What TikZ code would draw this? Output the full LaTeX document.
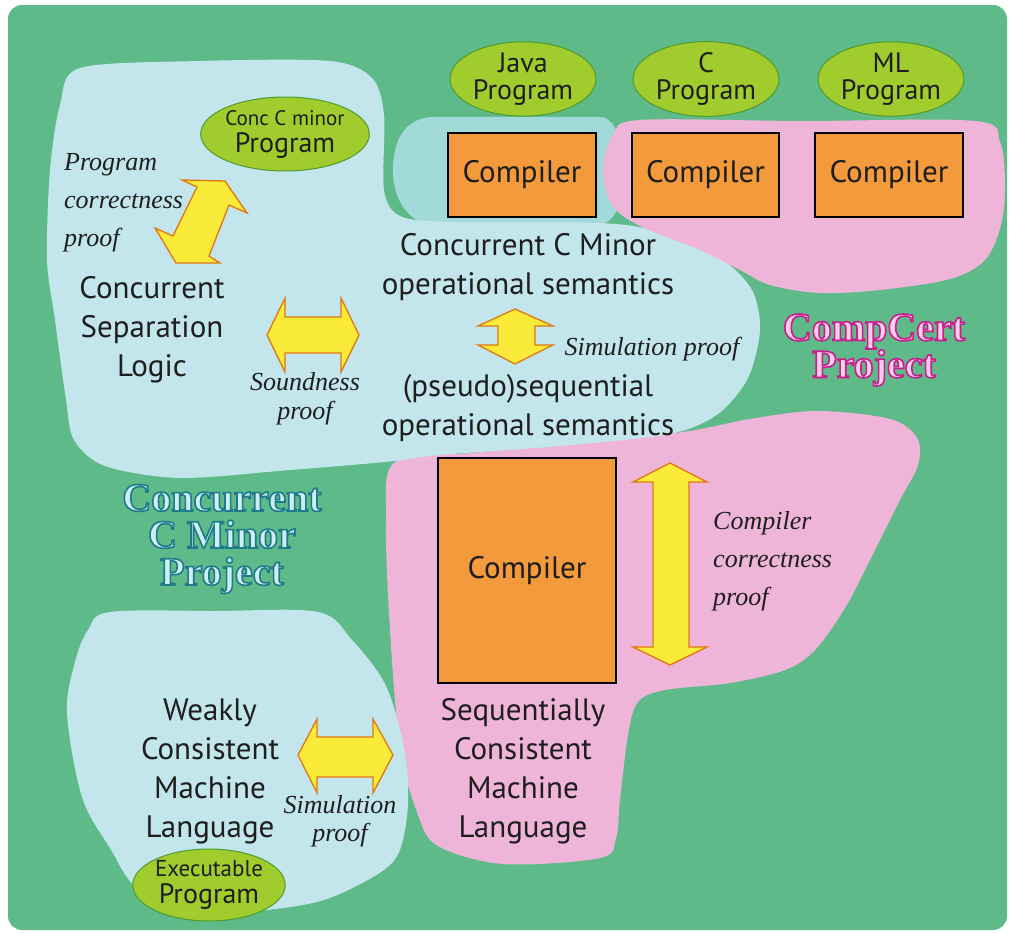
\documentclass[tikz,border=0pt]{standalone}
\usepackage{fontspec}
\setmainfont{PT Sans}
\newfontfamily\itfont{Liberation Serif}
\newfontfamily\titlefont{Liberation Serif}
\usetikzlibrary{shapes.geometric}
\definecolor{bggreen}{HTML}{5EBA88}
\definecolor{lblue}{HTML}{C2E6EC}
\definecolor{tealb}{HTML}{A2D9D9}
\definecolor{pinkb}{HTML}{EFB5D9}
\definecolor{orangebox}{HTML}{F39B3C}
\definecolor{arrowyellow}{HTML}{FAEB3A}
\definecolor{arroworange}{HTML}{E0780F}
\definecolor{ellfill}{HTML}{A0CC2E}
\definecolor{ellborder}{HTML}{4E9A2E}
\definecolor{txt}{HTML}{1E1E1E}
\definecolor{ccmfill}{HTML}{CDEFF4}
\definecolor{ccfill}{HTML}{FACDEA}
\tikzset{
 lbl/.style={text=txt, align=center, font=\fontsize{31}{39}\selectfont, inner sep=0pt},
 prf/.style={text=txt, font=\itfont\itshape\fontsize{26}{38}\selectfont, inner sep=0pt},
 compbox/.style={draw=black, line width=1.5pt, fill=orangebox, minimum width=148pt, minimum height=84pt, font=\fontsize{31}{39}\selectfont, text=txt, inner sep=0pt},
 prog/.style={ellipse, draw=ellborder, line width=1pt, fill=ellfill, minimum width=146pt, minimum height=72pt, inner sep=0pt, align=center, text=txt, font=\fontsize{28}{27}\selectfont},
 yarrow/.style={fill=arrowyellow, draw=arroworange, line width=1.3pt, line join=miter},
 ttl/.style={align=center, font=\titlefont\bfseries\fontsize{40}{37}\selectfont, inner sep=0pt},
}
% outlined text: #1 = stroke colour as "r g b", #2 = text
\newcommand\outlinedline[2]{\special{pdf:code q #1 RG 1.6 w 2 Tr}#2\special{pdf:code Q}}
\begin{document}
\begin{tikzpicture}[x=1pt,y=-1pt]
\useasboundingbox (0,0) rectangle (1014,933);
\fill[white] (0,0) rectangle (1014,933);
\fill[bggreen, rounded corners=14pt] (8,5) rectangle (1007,930);

% bottom pink region
\fill[pinkb] plot[smooth cycle, tension=0.55] coordinates {(395,462) (470,453) (580,443) (683,432) (750,419) (817,411) (890,419) (917,438) (918,465) (900,500) (870,560) (845,608) (815,650) (785,670) (730,683) (665,690) (638,702) (628,735) (620,800) (616,838) (600,858) (503,864) (438,846) (418,815) (400,747) (390,630) (386,520)};

% teal region around Java compiler
\fill[tealb] (430,117) -- (600,117) .. controls (618,117) and (625,150) .. (622,185) .. controls (620,215) and (610,226) .. (590,226) -- (430,226) .. controls (402,218) and (392,192) .. (393,167) .. controls (394,140) and (404,120) .. (430,117) -- cycle;

% main light blue region
\fill[lblue] plot[smooth cycle, tension=0.5] coordinates {(80,68) (200,61) (330,61) (372,78) (384,115) (384,190) (400,216) (450,222) (600,223) (660,232) (720,258) (752,290) (760,330) (748,378) (718,414) (670,434) (560,446) (440,455) (385,462) (290,470) (180,478) (105,466) (74,440) (66,400) (55,320) (47,260) (50,170) (60,105)};

% top pink region
\fill[pinkb] plot[smooth cycle, tension=0.55] coordinates {(640,120) (800,121) (975,121) (1000,142) (1005,185) (1001,225) (985,260) (950,279) (880,290) (820,293) (770,285) (740,270) (700,250) (640,226) (612,205) (603,170) (613,135)};

% bottom-left light blue region
\fill[lblue] plot[smooth cycle, tension=0.55] coordinates {(110,612) (215,611) (318,612) (352,640) (384,682) (400,730) (408,780) (405,830) (390,865) (335,896) (283,908) (210,912) (140,890) (110,848) (82,797) (67,713) (75,662) (88,630)};

% programs
\node[prog] (java) at (523,79) {Java\\Program};
\node[prog] (cprog) at (706,79) {C\\Program};
\node[prog] (ml) at (891,79) {ML\\Program};
\node[prog, minimum height=74pt] (conc) at (285,134) {{\fontsize{21}{27}\selectfont Conc C minor}\\Program};
\node[prog, minimum width=148pt] (exec) at (209,885) {{\fontsize{23}{27}\selectfont Executable}\\Program};

% compilers
\node[compbox] (cj) at (522,175) {Compiler};
\node[compbox, minimum width=147pt] (cc) at (705.5,175) {Compiler};
\node[compbox] (cml) at (889,175) {Compiler};
\node[compbox, minimum width=178pt, minimum height=225pt] (cbig) at (527,570.5) {Compiler};

% double arrows
\fill[yarrow] (182,180) -- (225,181) -- (247,213) -- (229,205) -- (209,256) -- (220,263) -- (176,263) -- (155,228) -- (173,236) -- (197,187) -- cycle;
\fill[yarrow] (267,335) -- (285,298) -- (285,317) -- (341,317) -- (341,298) -- (359,335) -- (341,372) -- (341,353) -- (285,353) -- (285,372) -- cycle;
\fill[yarrow] (515,309) -- (553,326) -- (535,326) -- (535,345) -- (553,345) -- (515,364) -- (478,345) -- (498,345) -- (498,326) -- (478,326) -- cycle;
\fill[yarrow] (670,463) -- (707,482) -- (689,482) -- (689,647) -- (707,647) -- (670,665) -- (633,647) -- (653,647) -- (653,482) -- (633,482) -- cycle;
\fill[yarrow] (298,755) -- (317,719) -- (317,737) -- (373,737) -- (373,719) -- (393,755) -- (373,793) -- (373,777) -- (317,777) -- (317,793) -- cycle;

% labels
\node[lbl] (csl) at (152,330) {Concurrent\\Separation\\Logic};
\node[lbl] (ccmos) at (528,267) {Concurrent C Minor\\operational semantics};
\node[lbl] (pseq) at (528,408) {(pseudo)sequential\\operational semantics};
\node[lbl] (wcml) at (210,771) {Weakly\\Consistent\\Machine\\Language};
\node[lbl] (scml) at (523,771) {Sequentially\\Consistent\\Machine\\Language};

% proof labels
\node[prf, align=left, anchor=west] (pcp) at (64,203) {Program\\correctness\\proof};
\node[prf, align=center, font=\itfont\itshape\fontsize{26}{29}\selectfont] (sndp) at (305,399) {Soundness\\proof};
\node[prf] (simp) at (652,349) {Simulation proof};
\node[prf, align=center, font=\itfont\itshape\fontsize{26}{28}\selectfont] (simp2) at (340,821) {Simulation\\proof};
\node[prf, align=left, anchor=west] (ccp) at (713,561) {Compiler\\correctness\\proof};

% project titles
\node[ttl, text=ccmfill] (ccmt) at (222,539) {\outlinedline{0.12 0.48 0.54}{Concurrent}\\\outlinedline{0.12 0.48 0.54}{C Minor}\\\outlinedline{0.12 0.48 0.54}{Project}};
\node[ttl, text=ccfill] (cct) at (874,350) {\outlinedline{0.78 0.12 0.55}{CompCert}\\\outlinedline{0.78 0.12 0.55}{Project}};
\end{tikzpicture}
\end{document}
